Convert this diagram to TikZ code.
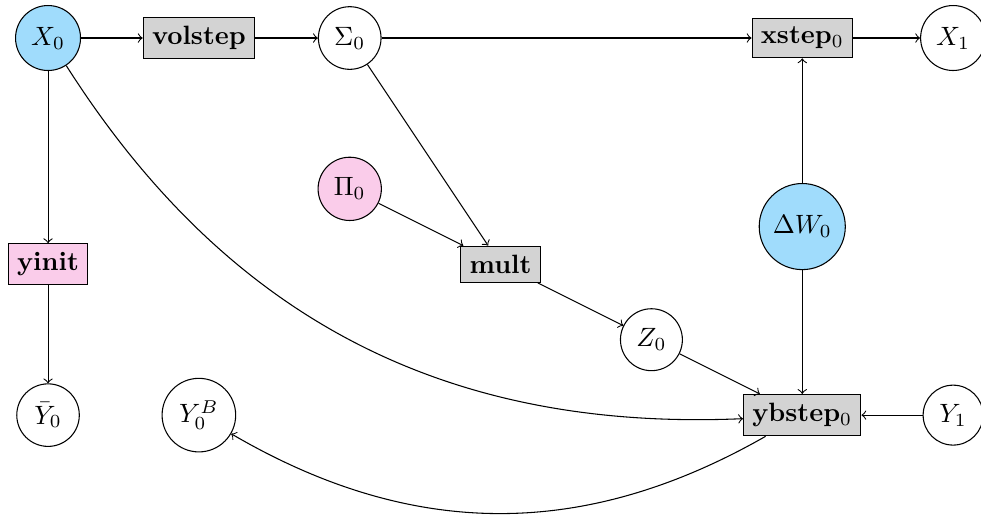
\documentclass[tikz,border=0pt]{standalone}
\definecolor{boxgray}{RGB}{211,211,211}
\definecolor{varblue}{RGB}{160,220,252}
\definecolor{varpink}{RGB}{250,204,234}
\begin{document}
\begin{tikzpicture}[>=to,
  var/.style={circle,draw},
  fn/.style={rectangle,draw,fill=boxgray,font=\bfseries},
  edge/.style={->}]
\useasboundingbox (-0.637,0.504) rectangle (12.37,-6.366);
\node[var,fill=varblue] (X0) at (0,0) {$X_0$};
\node[fn] (vol) at (2,0) {volstep};
\node[var] (S0) at (4,0) {$\Sigma_0$};
\node[fn] (xs) at (10,0) {xstep$_0$};
\node[var] (X1) at (12,0) {$X_1$};
\node[var,fill=varpink] (P0) at (4,-2) {$\Pi_0$};
\node[var,fill=varblue] (dW) at (10,-2.5) {$\Delta W_0$};
\node[fn,fill=varpink] (yi) at (0,-3) {yinit};
\node[fn] (mu) at (6,-3) {mult};
\node[var] (Z0) at (8,-4) {$Z_0$};
\node[fn] (yb) at (10,-5) {ybstep$_0$};
\node[var] (Y1) at (12,-5) {$Y_1$};
\node[var] (Yb) at (0,-5) {$\bar{Y}_0$};
\node[var] (YB) at (2,-5) {$Y_0^B$};
\draw[edge] (X0) -- (vol);
\draw[edge] (vol) -- (S0);
\draw[edge] (S0) -- (xs);
\draw[edge] (xs) -- (X1);
\draw[edge] (X0) -- (yi);
\draw[edge] (yi) -- (Yb);
\draw[edge] (X0) to[bend right=30] (yb);
\draw[edge] (S0) -- (mu);
\draw[edge] (P0) -- (mu);
\draw[edge] (mu) -- (Z0);
\draw[edge] (Z0) -- (yb);
\draw[edge] (dW) -- (xs);
\draw[edge] (dW) -- (yb);
\draw[edge] (Y1) -- (yb);
\draw[edge] (yb) to[bend left=30] (YB);
\end{tikzpicture}
\end{document}
